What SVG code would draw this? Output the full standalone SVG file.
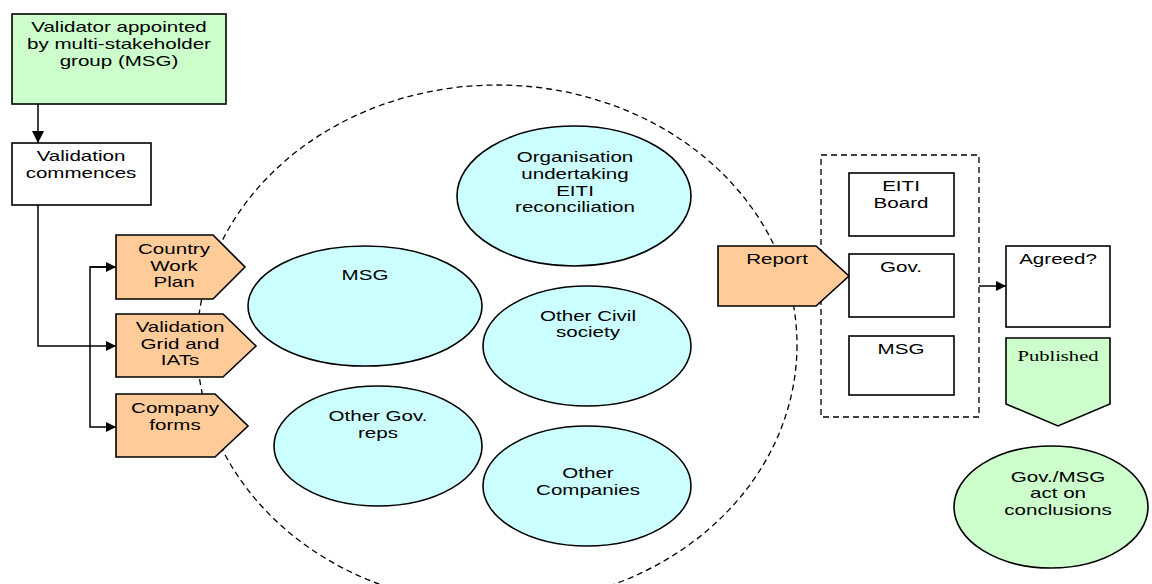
<svg xmlns="http://www.w3.org/2000/svg" width="1152" height="584" viewBox="0 0 1152 584">
<defs>
<style>
text{font-family:"Liberation Sans",Arial,sans-serif;font-size:15px;fill:#000;text-anchor:middle}
.serif{font-family:"Liberation Serif","Times New Roman",serif;font-size:15px}
.box{stroke:#000;stroke-width:1.6}
.green{fill:#CCFFCC}
.white{fill:#FFFFFF}
.orange{fill:#FFCC99}
.cyan{fill:#CCFFFF}
.conn{fill:none;stroke:#000;stroke-width:1.5}
.dash{fill:none;stroke:#000;stroke-width:1.3;stroke-dasharray:6 4}
</style>
<marker id="arr" viewBox="0 0 10 10" refX="10" refY="5" markerWidth="11" markerHeight="10" markerUnits="userSpaceOnUse" orient="auto">
<path d="M0,0 L10,5 L0,10 z" fill="#000"/>
</marker>
<marker id="arrL" viewBox="0 0 10 10" refX="10" refY="5" markerWidth="12" markerHeight="12" markerUnits="userSpaceOnUse" orient="auto">
<path d="M0,0 L10,5 L0,10 z" fill="#000"/>
</marker>
</defs>
<rect width="1152" height="584" fill="#fff"/>

<g id="boundary">
<ellipse cx="497" cy="345" rx="300" ry="260" class="dash"/>
<rect x="821" y="155" width="158" height="262" class="dash"/>
</g>

<g id="connectors">
<path d="M38,104 V143" class="conn" stroke-width="2" marker-end="url(#arrL)"/>
<path d="M38,205 V346 H116" class="conn" marker-end="url(#arr)"/>
<path d="M116,267 H90 V427 H116" class="conn" marker-end="url(#arr)"/>
<path d="M90,267 H116" class="conn" marker-end="url(#arr)"/>
<path d="M979,286 H1006" class="conn" marker-end="url(#arr)"/>
</g>

<g id="validator">
<rect x="12" y="14" width="214" height="90" class="box green"/>
<g transform="matrix(1.37 0 0 1 119 0)">
<text x="0" y="32">Validator appointed</text>
<text x="0" y="49">by multi-stakeholder</text>
<text x="0" y="66">group (MSG)</text>
</g>
</g>

<g id="commences">
<rect x="12" y="143" width="139" height="62" class="box white"/>
<g transform="matrix(1.37 0 0 1 81 0)">
<text x="0" y="161">Validation</text>
<text x="0" y="178">commences</text>
</g>
</g>

<g id="workplan">
<path d="M116,235 H213 L245,267 L213,299 H116 z" class="box orange"/>
<g transform="matrix(1.37 0 0 1 174 0)">
<text x="0" y="254">Country</text>
<text x="0" y="271">Work</text>
<text x="0" y="287">Plan</text>
</g>
</g>

<g id="grid">
<path d="M116,314 H223 L256,346 L223,377 H116 z" class="box orange"/>
<g transform="matrix(1.37 0 0 1 180 0)">
<text x="0" y="332">Validation</text>
<text x="0" y="349">Grid and</text>
<text x="0" y="365">IATs</text>
</g>
</g>

<g id="forms">
<path d="M116,394 H215 L248,426 L215,457 H116 z" class="box orange"/>
<g transform="matrix(1.37 0 0 1 175 0)">
<text x="0" y="413">Company</text>
<text x="0" y="430">forms</text>
</g>
</g>

<g id="org">
<ellipse cx="574" cy="196" rx="117" ry="70" class="box cyan"/>
<g transform="matrix(1.37 0 0 1 575 0)">
<text x="0" y="162">Organisation</text>
<text x="0" y="179">undertaking</text>
<text x="0" y="196">EITI</text>
<text x="0" y="212">reconciliation</text>
</g>
</g>

<g id="msg">
<ellipse cx="365" cy="306" rx="117" ry="60" class="box cyan"/>
<g transform="matrix(1.37 0 0 1 365 0)">
<text x="0" y="280">MSG</text>
</g>
</g>

<g id="civil">
<ellipse cx="587" cy="346" rx="104" ry="60" class="box cyan"/>
<g transform="matrix(1.37 0 0 1 588 0)">
<text x="0" y="321">Other Civil</text>
<text x="0" y="337">society</text>
</g>
</g>

<g id="govreps">
<ellipse cx="378" cy="446" rx="104" ry="60" class="box cyan"/>
<g transform="matrix(1.37 0 0 1 378 0)">
<text x="0" y="421">Other Gov.</text>
<text x="0" y="438">reps</text>
</g>
</g>

<g id="companies">
<ellipse cx="587" cy="486" rx="104" ry="60" class="box cyan"/>
<g transform="matrix(1.37 0 0 1 588 0)">
<text x="0" y="478">Other</text>
<text x="0" y="495">Companies</text>
</g>
</g>

<g id="report">
<path d="M718,246 H816 L849,276 L816,306 H718 z" class="box orange"/>
<g transform="matrix(1.37 0 0 1 777 0)">
<text x="0" y="264">Report</text>
</g>
</g>

<g id="board">
<rect x="849" y="173" width="105" height="63" class="box white"/>
<g transform="matrix(1.37 0 0 1 901 0)">
<text x="0" y="191">EITI</text>
<text x="0" y="208">Board</text>
</g>
</g>

<g id="gov">
<rect x="849" y="254" width="105" height="63" class="box white"/>
<g transform="matrix(1.37 0 0 1 901 0)">
<text x="0" y="272">Gov.</text>
</g>
</g>

<g id="msg2">
<rect x="849" y="336" width="105" height="59" class="box white"/>
<g transform="matrix(1.37 0 0 1 901 0)">
<text x="0" y="354">MSG</text>
</g>
</g>

<g id="agreed">
<rect x="1006" y="246" width="104" height="81" class="box white"/>
<g transform="matrix(1.37 0 0 1 1058 0)">
<text x="0" y="264">Agreed?</text>
</g>
</g>

<g id="published">
<path d="M1006,338 H1110 V404 L1058,426 L1006,404 z" class="box green"/>
<g transform="matrix(1.37 0 0 1 1058 0)">
<text x="0" y="361" class="serif">Published</text>
</g>
</g>

<g id="act">
<ellipse cx="1051" cy="507" rx="97" ry="61" class="box green"/>
<g transform="matrix(1.37 0 0 1 1058 0)">
<text x="0" y="482">Gov./MSG</text>
<text x="0" y="498">act on</text>
<text x="0" y="515">conclusions</text>
</g>
</g>
</svg>
